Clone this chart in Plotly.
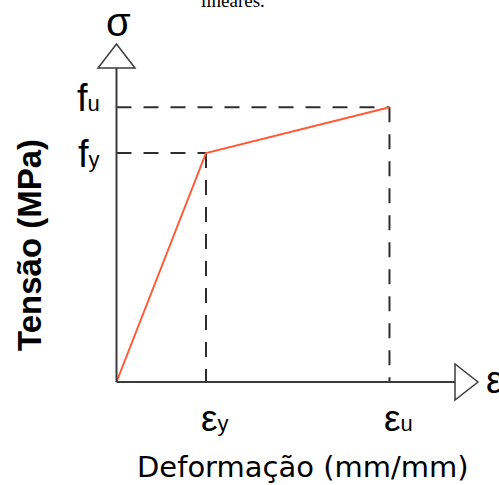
import plotly.graph_objects as go

# Bilinear (elastic / hardening) stress-strain model
strain = [0.0, 0.0020, 0.0061]          # mm/mm: origin, yield, ultimate
stress = [0.0, 250.0, 300.0]            # MPa:   origin, fy, fu
x_tick_labels = ["ε<span style='font-size:22px'>y</span>",
                 "ε<span style='font-size:22px'>u</span>"]
y_tick_labels = ["f<span style='font-size:22px'>y</span>",
                 "f<span style='font-size:22px'>u</span>"]
x_axis_label = "Deformação (mm/mm)"
y_axis_label = "Tensão (MPa)"

W, H = 499, 485
ORIGIN_PX = (116.5, 382.0)      # where (0, 0) sits on the page
PX_PER_STRAIN = 89.5 / 0.0020
PX_PER_MPA = 229.0 / 250.0

x0 = -ORIGIN_PX[0] / PX_PER_STRAIN
x1 = x0 + W / PX_PER_STRAIN
y0 = -(H - ORIGIN_PX[1]) / PX_PER_MPA
y1 = y0 + H / PX_PER_MPA

x_axis_end = (455 - ORIGIN_PX[0]) / PX_PER_STRAIN
y_axis_end = (ORIGIN_PX[1] - 68) / PX_PER_MPA

AXIS = "#3c3c3c"
DASH = "#2e2e2e"
RED = "#ff5a36"

fig = go.Figure()
fig.add_trace(go.Scatter(x=strain, y=stress, mode="lines",
                         line=dict(color=RED, width=2), hoverinfo="skip"))

shapes = []
# dashed guides to yield and ultimate points
for xs, ys in ((strain[1], stress[1]), (strain[2], stress[2])):
    for a, b in (((0, ys), (xs, ys)), ((xs, ys), (xs, 0))):
        shapes.append(dict(type="line", x0=a[0], y0=a[1], x1=b[0], y1=b[1],
                           xref="x", yref="y", layer="below",
                           line=dict(color=DASH, width=2, dash="15px,12px")))
# axes
shapes.append(dict(type="line", x0=0, y0=0, x1=0, y1=y_axis_end,
                   line=dict(color=AXIS, width=2)))
shapes.append(dict(type="line", x0=0, y0=0, x1=x_axis_end, y1=0,
                   line=dict(color=AXIS, width=2)))
# open arrow heads
shapes.append(dict(type="path", xref="x", yref="y",
                   xsizemode="pixel", ysizemode="pixel",
                   xanchor=0, yanchor=y_axis_end,
                   path="M -18.5,0 L 18.5,0 L 0,24 Z",
                   fillcolor="white", line=dict(color=AXIS, width=1.5)))
shapes.append(dict(type="path", xref="x", yref="y",
                   xsizemode="pixel", ysizemode="pixel",
                   xanchor=x_axis_end, yanchor=0,
                   path="M 0,-18 L 0,18 L 23,0 Z",
                   fillcolor="white", line=dict(color=AXIS, width=1.5)))

FONT = "Liberation Sans, Arial, sans-serif"
ann = []
# stress level labels
ann.append(dict(x=0, y=stress[1], text=y_tick_labels[0], xanchor="right",
                yanchor="middle", xshift=-15, yshift=-1,
                font=dict(family=FONT, size=38, color="black")))
ann.append(dict(x=0, y=stress[2], text=y_tick_labels[1], xanchor="right",
                yanchor="middle", xshift=-15, yshift=9,
                font=dict(family=FONT, size=38, color="black")))
# strain level labels
for xv, lab in zip(strain[1:], x_tick_labels):
    ann.append(dict(x=xv, y=0, text=lab, xanchor="center", yanchor="top",
                    xshift=9, yshift=-14,
                    font=dict(family=FONT, size=37, color="black")))
# axis symbols
ann.append(dict(x=0, y=y_axis_end, text="σ", xanchor="center", yanchor="bottom",
                xshift=2, yshift=22, font=dict(family=FONT, size=40, color="black")))
ann.append(dict(x=x_axis_end, y=0, text="ε", xanchor="left", yanchor="middle",
                xshift=29, yshift=2, font=dict(family=FONT, size=38, color="black")))
# axis titles
ann.append(dict(xref="paper", yref="paper", x=303 / W, y=1 - 467 / H,
                text=x_axis_label, xanchor="center", yanchor="middle",
                font=dict(family="DejaVu Sans, sans-serif", size=29, color="black")))
ann.append(dict(xref="paper", yref="paper", x=29 / W, y=1 - 245 / H,
                text="<b>" + y_axis_label + "</b>", textangle=-90,
                xanchor="center", yanchor="middle",
                font=dict(family=FONT, size=33, color="black")))
# tail of the preceding caption line
ann.append(dict(xref="paper", yref="paper", x=233 / W, y=1, text="lineares.",
                xanchor="center", yanchor="bottom", yshift=-13,
                font=dict(family="Liberation Serif, Times New Roman, serif",
                          size=19, color="black")))
for a in ann:
    a.setdefault("showarrow", False)

fig.update_layout(
    width=W, height=H, autosize=False,
    margin=dict(l=0, r=0, t=0, b=0, pad=0),
    paper_bgcolor="white", plot_bgcolor="white",
    showlegend=False,
    xaxis=dict(range=[x0, x1], visible=False, fixedrange=True),
    yaxis=dict(range=[y0, y1], visible=False, fixedrange=True),
    shapes=shapes, annotations=ann,
)
fig.write_html("out.html", config={"displayModeBar": False})
